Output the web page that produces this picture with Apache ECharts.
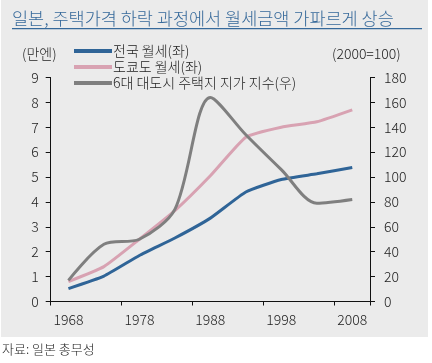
<!DOCTYPE html>
<html>
<head>
<meta charset="utf-8">
<script src="https://cdn.jsdelivr.net/npm/echarts@6/dist/echarts.min.js"></script>
<style>html,body{margin:0;padding:0;background:#fff;}#c{width:432px;height:363px;}</style>
</head>
<body>
<div id="c"></div>
<script>
var years = ['1968','1973','1978','1983','1988','1993','1998','2003','2008'];
var nationalRent = [0.52, 1.02, 1.85, 2.55, 3.35, 4.4, 4.9, 5.13, 5.38];
var tokyoRent = [0.8, 1.4, 2.5, 3.65, 5.05, 6.6, 7.0, 7.22, 7.7];
var landIndex = [17, 46, 50, 74, 164, 134, 106, 79, 82];
var leftTicks = {min: 0, max: 9, interval: 1};
var rightTicks = {min: 0, max: 180, interval: 20};
var seriesNames = ['전국 월세(좌)', '도쿄도 월세(좌)', '6대 대도시 주택지 지가 지수(우)'];

var FONT = '"Noto Sans CJK KR", "Noto Sans", sans-serif';
var W = 300;
var chart = echarts.init(document.getElementById('c'), null, {renderer: 'canvas'});
var axisCommon = {
  axisLine: {show: true, lineStyle: {color: '#111', width: 1}},
  axisTick: {show: true, length: 5, lineStyle: {color: '#111'}},
  splitLine: {show: false},
  axisLabel: {color: '#222', fontSize: 14, fontFamily: FONT, fontWeight: W}
};
chart.setOption({
  animation: false,
  backgroundColor: '#ffffff',
  graphic: [
    {type: 'rect', left: 1, top: 0, shape: {width: 427, height: 337}, style: {fill: '#ebebeb'}, z: -10},
    {type: 'text', left: 12, top: 10, style: {text: '일본, 주택가격 하락 과정에서 월세금액 가파르게 상승', fill: '#36699a', font: W + ' 17.5px ' + FONT}},
    {type: 'rect', left: 12, top: 28, shape: {width: 410, height: 1.2}, style: {fill: '#36699a'}},
    {type: 'text', left: 22, top: 47, style: {text: '(만엔)', fill: '#222', font: W + ' 14px ' + FONT}},
    {type: 'text', left: 332, top: 47, style: {text: '(2000=100)', fill: '#222', font: W + ' 14px ' + FONT}},
    {type: 'text', left: 2, top: 343, style: {text: '자료: 일본 총무성', fill: '#222', font: W + ' 13px ' + FONT}}
  ],
  legend: {
    orient: 'vertical', left: 69, top: 39,
    itemWidth: 38, itemHeight: 4, itemGap: 2,
    icon: 'rect',
    textStyle: {color: '#222', fontSize: 14, fontFamily: FONT, fontWeight: W, lineHeight: 14, padding: [0, 0, 0, -4]},
    data: seriesNames
  },
  grid: {left: 50.7, right: 62, top: 77.5, bottom: 61.5, containLabel: false},
  xAxis: {
    type: 'category', data: years, boundaryGap: true,
    axisLine: {show: true, lineStyle: {color: '#111'}},
    axisTick: {show: true, interval: 1, length: 4, lineStyle: {color: '#111'}},
    axisLabel: {interval: 1, color: '#222', fontSize: 14, fontFamily: FONT, fontWeight: W, margin: 11}
  },
  yAxis: [
    Object.assign({type: 'value', position: 'left'}, leftTicks, axisCommon, {axisLabel: Object.assign({}, axisCommon.axisLabel, {margin: 12})}),
    Object.assign({type: 'value', position: 'right'}, rightTicks, axisCommon, {axisLabel: Object.assign({}, axisCommon.axisLabel, {margin: 14})})
  ],
  series: [
    {name: seriesNames[0], type: 'line', data: nationalRent, yAxisIndex: 0, smooth: 0.15, symbol: 'none',
     lineStyle: {color: '#2f6497', width: 3}, itemStyle: {color: '#2f6497'}, z: 4},
    {name: seriesNames[1], type: 'line', data: tokyoRent, yAxisIndex: 0, smooth: 0.15, symbol: 'none',
     lineStyle: {color: '#d8a2b2', width: 3}, itemStyle: {color: '#d8a2b2'}, z: 3},
    {name: seriesNames[2], type: 'line', data: landIndex, yAxisIndex: 1, smooth: 0.3, symbol: 'none',
     lineStyle: {color: '#7f7f7f', width: 3}, itemStyle: {color: '#7f7f7f'}, z: 5}
  ]
});
</script>
</body>
</html>
